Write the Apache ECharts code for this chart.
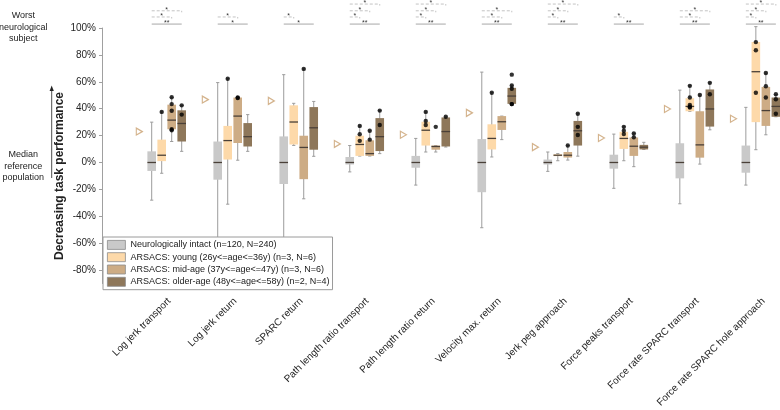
<!DOCTYPE html>
<html><head><meta charset="utf-8">
<script src="https://cdn.jsdelivr.net/npm/echarts@6/dist/echarts.min.js"></script>
<style>html,body{margin:0;padding:0;background:#fff}#c{width:780px;height:410px}</style>
</head><body><div id="c"></div>
<script>
const categories = ['Log jerk transport','Log jerk return','SPARC return','Path length ratio transport','Path length ratio return','Velocity max. return','Jerk peg approach','Force peaks transport','Force rate SPARC transport','Force rate SPARC hole approach'];
const cohortNames = ['Neurologically intact (n=120, N=240)','ARSACS: young (26y<=age<=36y) (n=3, N=6)','ARSACS: mid-age (37y<=age<=47y) (n=3, N=6)','ARSACS: older-age (48y<=age<=58y) (n=2, N=4)'];
const yTickValues = [-80,-60,-40,-20,0,20,40,60,80,100];

// box stats per category: [lower whisker, Q1, median, Q3, upper whisker] (%)
const intactBoxes = [[-28,-6.3,0,8.3,30],[-62,-12.8,0,15.6,59.4],[-58,-16,0,19.4,65.3],[-7,-1.5,0,4.1,12.6],[-16.8,-3.9,0,4.9,17.9],[-48.5,-22.1,0,17.4,67.2],[-6.6,-1.5,0,2.2,7.8],[-19.2,-4.6,0,5.8,21.1],[-30.7,-11.8,0,14.3,53.8],[-16.8,-7.6,0,12.6,41]];
const youngBoxes = [[-8,1,5.4,17,37.6],[-31,2.2,16.3,27.2,62.3],[12.7,13.4,30.1,42.5,44],[4.8,4.9,13.4,19.9,27.2],[7.8,12.6,24,30.3,37.6],[4.1,9.7,17.9,28.4,51.9],[1.3,4.7,5.4,6.1,6.6],[1.3,10.1,17.9,22.8,26.5],[38,38.1,41.7,47.8,57],[9.5,30,67.5,89.6,101]];
const midBoxes = [[15.6,24.7,31.5,43,48.5],[1.7,14.5,34.5,48.3,48.3],[-27,-12.4,11.2,19.9,69.6],[4.8,4.9,6.6,16.5,23.6],[7.8,9.5,11.9,12.6,12.6],[17,24.2,30.3,34.5,34.5],[1.8,3.7,5.4,7.8,12.6],[-3.1,4.9,12.1,18.6,21.8],[-1.2,3.6,13.1,38.1,50.2],[20.6,27.2,38.6,56.2,66.5]];
const olderBoxes = [[8.3,15.6,29,38.8,42.5],[8.3,11.9,19.2,29.3,35.6],[4.6,9.5,25.8,41.2,45.4],[6.6,8.5,19.2,33,38.6],[11.5,11.9,23,33.5,33.9],[43.6,43.6,49.4,55.5,57.4],[4.7,12.6,23.6,30.9,36.2],[9.7,9.7,11.4,13.1,15],[24.3,26.7,39.8,54.3,59.2],[34,34,41.7,48.3,50.7]];

// individual subject points per category
const intactDots = [[],[],[],[],[],[],[],[],[],[]];
const youngDots = [[37.6],[62.3],[],[27.2,21,16.1],[37.6,30.8,27.9],[51.9],[],[26.5,23.6,21.1],[57,48.3,42.7,41.5,40.8],[101,89.5,83.5,51.9]];
const midDots = [[48.5,43.4,38.5,24.7,24],[48.3,47.9],[69.6],[23.6,17],[26.5],[],[12.6],[21.6,18.7],[50.2],[66.5,56.7,48.3]];
const olderDots = [[42.5,35.6],[],[],[38.6,27.9],[34],[65.3,57.2,54.8,43.4,43.4],[36.2,26.5,20.4],[],[59.2,50.7],[50.7,47,36.2]];

// open triangle marker per category
const triangleValues = [23,46.8,45.8,13.8,20.6,36.9,11.4,18.2,39.8,32.5];

// significance: [category index, compared cohort (1 young, 2 mid, 3 older), stack level, label]
const dashedBrackets = [[0,2,1,'*'],[0,3,2,'*'],[1,2,1,'*'],[2,1,1,'*'],[3,1,1,'*'],[3,2,2,'*'],[3,3,3,'*'],[4,1,1,'*'],[4,2,2,'*'],[4,3,3,'*'],[5,2,1,'*'],[5,3,2,'*'],[6,1,1,'*'],[6,2,2,'*'],[6,3,3,'*'],[7,1,1,'*'],[8,2,1,'*'],[8,3,2,'*'],[9,1,1,'*'],[9,2,2,'*'],[9,3,3,'*']];
const solidLabels = ['**','*','*','**','**','**','**','**','**','**'];

const FONT = 'Liberation Sans, Arial, Helvetica, sans-serif';
const colors = ['#c9c9c9','#fdd9a9','#cdac85','#8e775a'];
const pxPerUnit = 66.02;
const boxOffsets = [-15,-5,5,15].map(p => p / pxPerUnit);
const triOffset = -27.4 / pxPerUnit;
const labelShift = 0.04;
const levelY = [102.9, 108.2, 112.8, 117.8];
const allBoxes = [intactBoxes, youngBoxes, midBoxes, olderBoxes];
const allDots = [intactDots, youngDots, midDots, olderDots];

function boxRender(ci) {
  return function (params, api) {
    const k = api.value(0) + boxOffsets[ci];
    const pLow = api.coord([k, api.value(1)]);
    const pQ1 = api.coord([k, api.value(2)]);
    const pMed = api.coord([k, api.value(3)]);
    const pQ3 = api.coord([k, api.value(4)]);
    const pHigh = api.coord([k, api.value(5)]);
    const cx = pMed[0], hw = 4.3, cap = 1.6;
    const ws = { stroke: '#9c9c9c', lineWidth: 1 };
    return { type: 'group', children: [
      { type: 'line', shape: { x1: cx, y1: pLow[1], x2: cx, y2: pHigh[1] }, style: ws },
      { type: 'line', shape: { x1: cx - cap, y1: pLow[1], x2: cx + cap, y2: pLow[1] }, style: ws },
      { type: 'line', shape: { x1: cx - cap, y1: pHigh[1], x2: cx + cap, y2: pHigh[1] }, style: ws },
      { type: 'rect', shape: { x: cx - hw, y: pQ3[1], width: hw * 2, height: Math.max(pQ1[1] - pQ3[1], 1) }, style: { fill: colors[ci] } },
      { type: 'line', shape: { x1: cx - hw, y1: pMed[1], x2: cx + hw, y2: pMed[1] }, style: { stroke: '#4a4038', lineWidth: 1.3 } }
    ]};
  };
}

const series = [];
allBoxes.forEach((boxes, ci) => {
  series.push({
    name: cohortNames[ci], type: 'custom', z: 2,
    itemStyle: { color: colors[ci] },
    renderItem: boxRender(ci),
    encode: { x: 0, y: [1, 2, 3, 4, 5] },
    data: boxes.map((b, g) => [g + 1].concat(b))
  });
});
const dotData = [];
allDots.forEach((dots, ci) => dots.forEach((arr, g) => arr.forEach(v => dotData.push([g + 1 + boxOffsets[ci], v]))));
series.push({ name: 'points', type: 'scatter', z: 5, symbol: 'circle', symbolSize: 4.4, itemStyle: { color: '#000' }, silent: true, data: dotData });
series.push({ name: 'triangles', type: 'scatter', z: 5, symbol: 'triangle', symbolRotate: -90, symbolSize: [7, 6], silent: true,
  itemStyle: { color: 'rgba(255,255,255,0)', borderColor: '#c9a071', borderWidth: 1.2 },
  data: triangleValues.map((v, g) => [g + 1 + triOffset, v]) });

series.push({
  name: 'dashedSig', type: 'custom', z: 3, silent: true, clip: false,
  data: dashedBrackets.map(b => [b[0] + 1, b[1], b[2]]),
  renderItem: function (params, api) {
    const g = api.value(0), to = api.value(1), lv = api.value(2);
    const y = levelY[lv];
    const p1 = api.coord([g + boxOffsets[0], y]);
    const p2 = api.coord([g + boxOffsets[to], y]);
    const st = { stroke: '#b3b3b3', lineWidth: 0.8, lineDash: [3, 2] };
    return { type: 'group', children: [
      { type: 'line', shape: { x1: p1[0], y1: p1[1], x2: p2[0], y2: p2[1] }, style: st },
      { type: 'line', shape: { x1: p2[0], y1: p2[1], x2: p2[0], y2: p2[1] + 1.5 }, style: { stroke: '#b3b3b3', lineWidth: 0.8 } },
      { type: 'text', x: (p1[0] + p2[0]) / 2, y: p1[1] - 0.5, style: { text: dashedBrackets[params.dataIndex][3], fontSize: 7, fontFamily: FONT, fill: '#333', align: 'center', verticalAlign: 'middle' } }
    ]};
  }
});
series.push({
  name: 'solidSig', type: 'custom', z: 3, silent: true, clip: false,
  data: solidLabels.map((l, g) => [g + 1]),
  renderItem: function (params, api) {
    const g = api.value(0);
    const y = levelY[0];
    const p1 = api.coord([g + boxOffsets[0], y]);
    const p2 = api.coord([g + boxOffsets[3], y]);
    return { type: 'group', children: [
      { type: 'line', shape: { x1: p1[0], y1: p1[1], x2: p2[0], y2: p2[1] }, style: { stroke: '#c4c4c4', lineWidth: 1.5 } },
      { type: 'text', x: (p1[0] + p2[0]) / 2, y: p1[1] - 0.8, style: { text: solidLabels[params.dataIndex], fontSize: 7, fontFamily: FONT, fill: '#333', align: 'center', verticalAlign: 'middle' } }
    ]};
  }
});

const option = {
  animation: false,
  backgroundColor: '#fff',
  grid: { left: 102, right: 0, top: 28, bottom: 121, containLabel: false },
  xAxis: {
    type: 'value', min: 0.02, max: 10.29,
    axisLine: { show: false }, axisTick: { show: false }, splitLine: { show: false },
    axisLabel: {
      customValues: categories.map((c, i) => i + 1 + labelShift),
      formatter: v => categories[Math.round(v - labelShift) - 1] || '',
      rotate: 45, margin: 16, fontSize: 10, color: '#262626', fontFamily: FONT
    }
  },
  yAxis: {
    type: 'value', min: -90, max: 100, interval: 10,
    axisLine: { show: true, lineStyle: { color: '#a0a0a0', width: 1 } },
    axisTick: { show: true, customValues: yTickValues, length: 3, lineStyle: { color: '#a0a0a0' } },
    splitLine: { show: false },
    axisLabel: { customValues: yTickValues, formatter: v => v + '%', fontSize: 10, color: '#262626', fontFamily: FONT, margin: 6 }
  },
  legend: {
    left: 103, top: 237, orient: 'vertical', itemWidth: 18, itemHeight: 9, itemGap: 2.5,
    padding: [3, 3, 3, 4], backgroundColor: '#fff', borderColor: '#9a9a9a', borderWidth: 1,
    selectedMode: false, z: 10,
    textStyle: { fontSize: 9, color: '#1a1a1a', fontFamily: FONT },
    data: cohortNames.map((n, i) => ({ name: n, icon: 'rect', itemStyle: { color: colors[i], borderColor: '#8a8a8a', borderWidth: 0.8 } }))
  },
  graphic: [
    { type: 'text', x: 23.3, y: 15.7, style: { text: 'Worst', fontSize: 9, fontFamily: FONT, fill: '#222', align: 'center', verticalAlign: 'middle' } },
    { type: 'text', x: 23.3, y: 27.2, style: { text: 'neurological', fontSize: 9, fontFamily: FONT, fill: '#222', align: 'center', verticalAlign: 'middle' } },
    { type: 'text', x: 23.3, y: 38.5, style: { text: 'subject', fontSize: 9, fontFamily: FONT, fill: '#222', align: 'center', verticalAlign: 'middle' } },
    { type: 'text', x: 23.3, y: 155, style: { text: 'Median', fontSize: 9, fontFamily: FONT, fill: '#222', align: 'center', verticalAlign: 'middle' } },
    { type: 'text', x: 23.3, y: 166.2, style: { text: 'reference', fontSize: 9, fontFamily: FONT, fill: '#222', align: 'center', verticalAlign: 'middle' } },
    { type: 'text', x: 23.3, y: 177.4, style: { text: 'population', fontSize: 9, fontFamily: FONT, fill: '#222', align: 'center', verticalAlign: 'middle' } },
    { type: 'line', shape: { x1: 51.7, y1: 178, x2: 51.7, y2: 89 }, style: { stroke: '#222', lineWidth: 0.8 } },
    { type: 'polygon', shape: { points: [[51.7, 85.5], [49.6, 91], [53.8, 91]] }, style: { fill: '#222' } },
    { type: 'text', x: 60, y: 176, rotation: Math.PI / 2, style: { text: 'Decreasing task performance', fontSize: 12, fontWeight: 'bold', fontFamily: FONT, fill: '#222', align: 'center', verticalAlign: 'middle' } }
  ],
  series: series
};
const chart = echarts.init(document.getElementById('c'), null, { renderer: 'canvas' });
chart.setOption(option);
</script></body></html>
